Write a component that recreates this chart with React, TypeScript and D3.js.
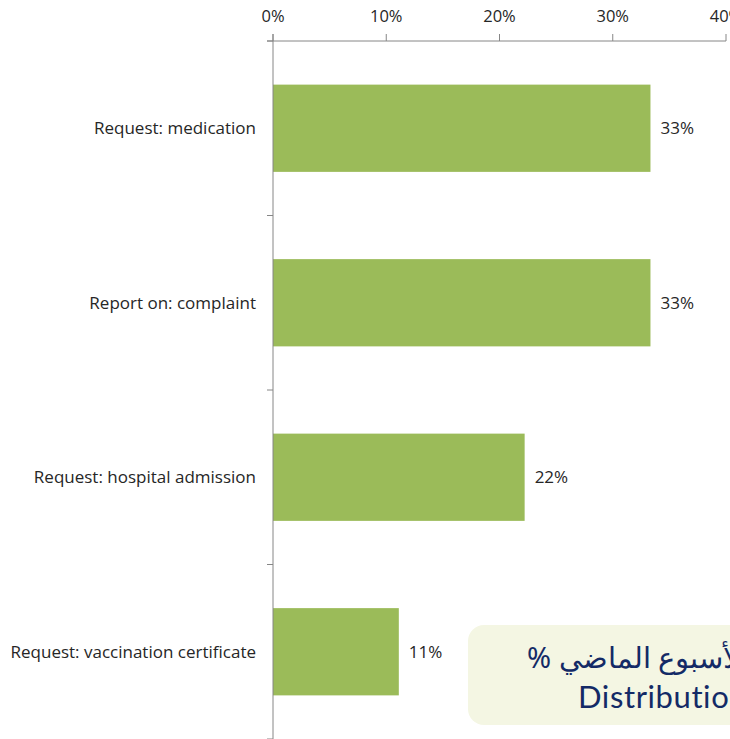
import React from "react";
import * as d3 from "d3";

const categories = [
  "Request: medication",
  "Report on: complaint",
  "Request: hospital admission",
  "Request: vaccination certificate",
];
const values = [0.3333, 0.3333, 0.2222, 0.1111];
const valueLabels = ["33%", "33%", "22%", "11%"];
const xTicks = [0, 0.1, 0.2, 0.3, 0.4];
const xTickLabels = ["0%", "10%", "20%", "30%", "40%"];
const boxLine1 = "% الأسبوع الماضي";
const boxLine2 = "Distribution";

const W = 730;
const H = 739;

export default function App() {
  const x = d3.scaleLinear().domain([0, 0.4]).range([273, 726]);
  const y = d3
    .scaleBand<string>()
    .domain(categories)
    .range([41, 739])
    .paddingInner(0.5)
    .paddingOuter(0.25);
  const step = y.step();
  const axisColor = "#868686";
  const textColor = "#262626";
  const font = "'Open Sans', Arial, sans-serif";
  const boundaries = d3.range(categories.length + 1).map((i) => 41 + i * step);

  return (
    <svg
      width={W}
      height={H}
      style={{ position: "absolute", left: 0, top: 0, background: "#fff" }}
    >
      {/* bars */}
      {categories.map((c, i) => (
        <rect
          key={c}
          x={x(0)}
          y={y(c)!}
          width={x(values[i]) - x(0)}
          height={y.bandwidth()}
          fill="#9bbb59"
        />
      ))}
      {/* x axis */}
      <line x1={267} x2={x(0.4)} y1={41} y2={41} stroke={axisColor} strokeWidth={1} />
      {xTicks.map((t, i) => (
        <g key={t}>
          <line x1={x(t)} x2={x(t)} y1={34} y2={41} stroke={axisColor} />
          <text
            x={x(t)}
            y={22}
            textAnchor="middle"
            fontFamily={font}
            fontSize={16.5}
            fill={textColor}
          >
            {xTickLabels[i]}
          </text>
        </g>
      ))}
      {/* y axis */}
      <line x1={x(0)} x2={x(0)} y1={34} y2={H} stroke={axisColor} strokeWidth={1} />
      {boundaries.map((b, i) => (
        <line key={i} x1={267} x2={x(0)} y1={b} y2={b} stroke={axisColor} />
      ))}
      {/* category labels */}
      {categories.map((c) => (
        <text
          key={c}
          x={256}
          y={y(c)! + y.bandwidth() / 2}
          dy="0.35em"
          textAnchor="end"
          fontFamily={font}
          fontSize={17}
          fill={textColor}
        >
          {c}
        </text>
      ))}
      {/* value labels */}
      {categories.map((c, i) => (
        <text
          key={c}
          x={x(values[i]) + 10}
          y={y(c)! + y.bandwidth() / 2}
          dy="0.35em"
          textAnchor="start"
          fontFamily={font}
          fontSize={17}
          fill={textColor}
        >
          {valueLabels[i]}
        </text>
      ))}
      {/* overlay box */}
      <rect x={468} y={625} width={320} height={100} rx={16} ry={16} fill="#f4f6e3" />
      <text
        x={527}
        y={668}
        fontFamily="'Noto Sans', sans-serif"
        fontSize={29}
        fill="#132a66"
        direction="ltr"
      >
        {boxLine1}
      </text>
      <text
        x={578}
        y={708}
        fontFamily="'Lato', sans-serif"
        fontSize={31}
        letterSpacing={0.6}
        fill="#132a66"
      >
        {boxLine2}
      </text>
    </svg>
  );
}
